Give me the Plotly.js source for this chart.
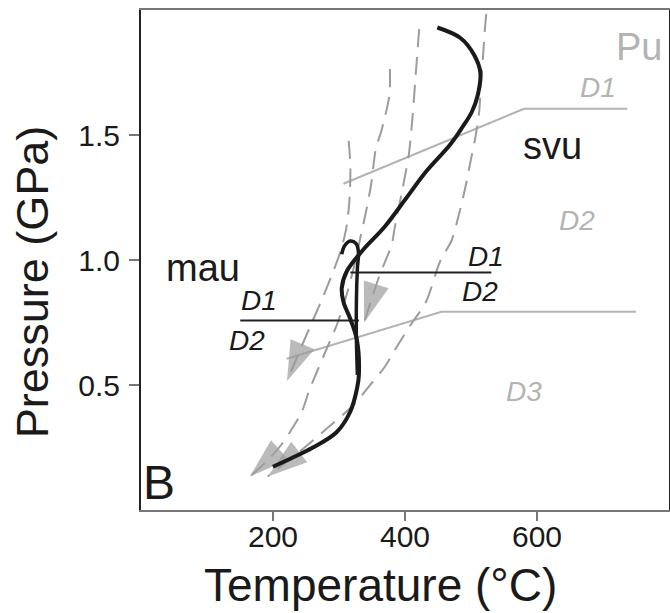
<!DOCTYPE html>
<html>
<head>
<meta charset="utf-8">
<script src="https://cdn.plot.ly/plotly-3.0.1.min.js"></script>
<style>html,body{margin:0;padding:0;background:#fff;}#chart{width:670px;height:613px;}</style>
</head>
<body>
<div id="chart"></div>
<script>
// ---- data (temperature in °C, pressure in GPa) ----
const svuT = [449.0, 484.0, 504.8, 514.1, 510.3, 501.2, 486.1, 467.9, 431.7, 400.6, 369.2, 336.3, 312.0, 304.2, 306.8, 317.2, 327.2, 330.2, 327.6, 317.2, 296.3, 259.8, 228.5, 199.9];
const svuP = [1.93, 1.888, 1.82, 1.751, 1.66, 1.592, 1.528, 1.46, 1.353, 1.243, 1.133, 1.04, 0.956, 0.888, 0.832, 0.764, 0.68, 0.544, 0.49, 0.394, 0.311, 0.249, 0.208, 0.173];

const mauT = [304.2, 308.3, 317.2, 325.7, 329.5, 327.9, 326.4, 326.4, 327.9];
const mauP = [1.023, 1.056, 1.076, 1.066, 1.032, 0.968, 0.84, 0.68, 0.54];

const dashLT = [314.6, 317.2, 316.6, 314.6, 310.5, 303.0, 290.9, 275.7, 260.6, 245.5, 233.4, 221.2];
const dashLP = [1.477, 1.38, 1.28, 1.20, 1.12, 1.04, 0.952, 0.852, 0.76, 0.668, 0.592, 0.516];

const dashAT = [377.1, 376.4, 364.2, 356.2, 348.4, 340.8, 333.2, 327.2, 313.6, 298.4, 281.8, 267.7, 254.5, 243.9, 228.5, 212.9, 189.5, 165.0];
const dashAP = [1.764, 1.66, 1.516, 1.45, 1.298, 1.192, 1.10, 1.024, 0.88, 0.752, 0.648, 0.56, 0.476, 0.394, 0.324, 0.262, 0.192, 0.134];

const dashBT = [421.5, 416.2, 411.0, 405.9, 395.3, 384.7, 379.7, 369.6, 359.0, 349.9, 338.1];
const dashBP = [1.924, 1.74, 1.56, 1.424, 1.272, 1.133, 1.06, 0.992, 0.92, 0.848, 0.75];

const dashCT = [523.0, 520.4, 517.9, 514.8, 512.6, 507.3, 499.7, 490.6, 481.5, 470.9, 452.8, 431.7, 411.0, 389.2, 369.2, 348.4, 322.3, 280.7, 244.2, 218.2, 192.0];
const dashCP = [1.984, 1.90, 1.80, 1.70, 1.60, 1.50, 1.40, 1.28, 1.18, 1.08, 0.992, 0.832, 0.75, 0.66, 0.572, 0.504, 0.421, 0.324, 0.242, 0.188, 0.134];

const upperBoundT = [306.7, 580.4, 736.7];
const upperBoundP = [1.305, 1.605, 1.605];
const lowerBoundT = [220.8, 455.2, 749.7];
const lowerBoundP = [0.605, 0.793, 0.793];

const svuSepT = [317.2, 530.9];
const svuSepP = [0.95, 0.95];
const mauSepT = [150.4, 330.2];
const mauSepP = [0.758, 0.758];

const xTickVals = [200, 400, 600];
const xTickText = ['200', '400', '600'];
const yTickVals = [0.5, 1.0, 1.5];
const yTickText = ['0.5', '1.0', '1.5'];

// ---- styles ----
const FONT = 'Liberation Sans, Arial, Helvetica, sans-serif';
const DASH_COL = '#9c9c9c';
const BOUND_COL = '#b3b3b3';
const TEXT_GRAY = '#b3b3b3';
const INK = '#1a1a1a';

function dashed(T, P) {
  return {
    x: T, y: P, type: 'scatter', mode: 'lines+markers', hoverinfo: 'skip',
    line: {color: DASH_COL, width: 2, dash: '18px,10px', shape: 'spline', smoothing: 0.8},
    marker: {
      size: T.map((_, i) => i === T.length - 1 ? 42 : 0),
      symbol: 'arrow', angleref: 'previous', color: DASH_COL,
      line: {width: 0}
    }
  };
}
function solid(T, P, color, width, spline) {
  return {
    x: T, y: P, type: 'scatter', mode: 'lines', hoverinfo: 'skip',
    line: {color: color, width: width, shape: spline ? 'spline' : 'linear'}
  };
}

const traces = [
  solid(upperBoundT, upperBoundP, BOUND_COL, 2, false),
  solid(lowerBoundT, lowerBoundP, BOUND_COL, 2, false),
  dashed(dashLT, dashLP),
  dashed(dashAT, dashAP),
  dashed(dashBT, dashBP),
  dashed(dashCT, dashCP),
  solid(svuSepT, svuSepP, '#222', 2, false),
  solid(mauSepT, mauSepP, '#222', 2, false),
  solid(mauT, mauP, INK, 3.5, true),
  solid(svuT, svuP, INK, 4, true)
];

function label(text, x, y, color, size, italic) {
  return {
    text: text, x: x, y: y, xref: 'x', yref: 'y', showarrow: false,
    xanchor: 'center', yanchor: 'middle',
    font: {family: FONT, size: size, color: color, style: italic ? 'italic' : 'normal'}
  };
}

const layout = {
  width: 670, height: 613,
  margin: {l: 141, r: 1, t: 10, b: 103},
  paper_bgcolor: '#ffffff', plot_bgcolor: '#ffffff',
  showlegend: false,
  font: {family: FONT, color: INK},
  xaxis: {
    range: [0, 800], tickvals: xTickVals, ticktext: xTickText,
    ticks: 'outside', ticklen: 9, tickwidth: 1.5, tickcolor: '#777',
    ticklabelstandoff: -10,
    showgrid: false, zeroline: false, showline: true, linecolor: '#777', linewidth: 2, mirror: true,
    tickfont: {family: FONT, size: 30, color: INK}, fixedrange: true
  },
  yaxis: {
    range: [0, 2], tickvals: yTickVals, ticktext: yTickText,
    ticks: 'outside', ticklen: 10, tickwidth: 1.5, tickcolor: '#777',
    ticklabelstandoff: 3,
    showgrid: false, zeroline: false, showline: true, linecolor: '#222', linewidth: 2, mirror: true,
    tickfont: {family: FONT, size: 30, color: INK}, fixedrange: true
  },
  annotations: [
    {text: 'Temperature (°C)', xref: 'paper', yref: 'paper', x: 0.4527, y: -0.15,
     xanchor: 'center', yanchor: 'middle', showarrow: false,
     font: {family: FONT, size: 46, color: INK}},
    {text: 'Pressure (GPa)', xref: 'paper', yref: 'paper', x: -0.206, y: 0.456,
     xanchor: 'center', yanchor: 'middle', showarrow: false, textangle: -90,
     font: {family: FONT, size: 45, color: INK}},
    label('Pu', 755, 1.852, TEXT_GRAY, 38, false),
    label('D1', 692, 1.692, TEXT_GRAY, 28, true),
    label('svu', 624, 1.456, INK, 38, false),
    label('D2', 661, 1.16, TEXT_GRAY, 28, true),
    label('D1', 522, 1.016, INK, 28, true),
    label('D2', 513, 0.874, INK, 28, true),
    label('mau', 94, 0.968, INK, 38, false),
    label('D1', 179, 0.84, INK, 28, true),
    label('D2', 161, 0.68, INK, 28, true),
    label('D3', 580, 0.476, TEXT_GRAY, 28, true),
    label('B', 27.5, 0.11, INK, 48, false)
  ]
};

Plotly.newPlot('chart', traces, layout, {staticPlot: true, displayModeBar: false});
</script>
</body>
</html>
